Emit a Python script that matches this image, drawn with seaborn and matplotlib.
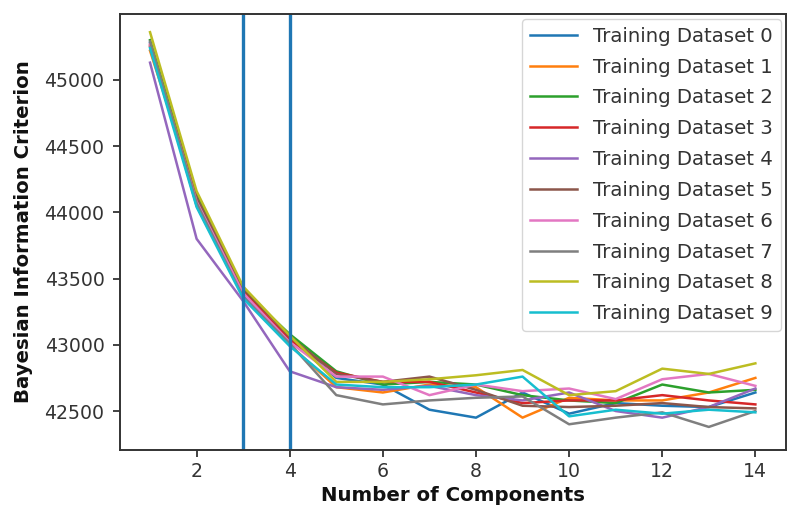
import numpy as np
import pandas as pd
import matplotlib
matplotlib.use("Agg")
import matplotlib.pyplot as plt
import seaborn as sns

components = list(range(1, 15))
series_names = [f"Training Dataset {i}" for i in range(10)]

ds0 = [45280, 44050, 43370, 43050, 42750, 42700, 42510, 42450, 42640, 42480, 42560, 42540, 42530, 42640]
ds1 = [45220, 44120, 43420, 43000, 42680, 42640, 42700, 42680, 42450, 42600, 42580, 42580, 42640, 42750]
ds2 = [45300, 44130, 43410, 43080, 42800, 42700, 42720, 42700, 42620, 42580, 42560, 42700, 42640, 42660]
ds3 = [45260, 44100, 43400, 43040, 42790, 42720, 42720, 42640, 42560, 42580, 42580, 42620, 42580, 42550]
ds4 = [45130, 43800, 43330, 42800, 42680, 42660, 42690, 42620, 42580, 42640, 42500, 42450, 42530, 42670]
ds5 = [45250, 44110, 43430, 43060, 42780, 42720, 42760, 42660, 42540, 42530, 42540, 42560, 42530, 42520]
ds6 = [45270, 44080, 43390, 43020, 42760, 42760, 42620, 42700, 42650, 42670, 42590, 42740, 42780, 42690]
ds7 = [45290, 44070, 43360, 43010, 42620, 42550, 42580, 42600, 42610, 42400, 42450, 42490, 42380, 42500]
ds8 = [45360, 44160, 43440, 43070, 42720, 42720, 42740, 42770, 42810, 42620, 42650, 42820, 42780, 42860]
ds9 = [45240, 44040, 43350, 42990, 42700, 42680, 42680, 42700, 42760, 42460, 42510, 42480, 42510, 42490]

all_series = [ds0, ds1, ds2, ds3, ds4, ds5, ds6, ds7, ds8, ds9]
chosen_components = [3, 4]

rows = []
for name, vals in zip(series_names, all_series):
    for n, v in zip(components, vals):
        rows.append({"n": n, "bic": v, "dataset": name})
df = pd.DataFrame(rows)

plt.rcParams["font.family"] = ["DejaVu Sans"]
plt.rcParams["font.size"] = 13
plt.rcParams["axes.linewidth"] = 1.4
plt.rcParams["axes.edgecolor"] = "#333333"
plt.rcParams["xtick.major.width"] = 1.3
plt.rcParams["ytick.major.width"] = 1.3
plt.rcParams["xtick.major.size"] = 5
plt.rcParams["ytick.major.size"] = 5

fig, ax = plt.subplots(figsize=(7.88, 5.15), dpi=100)
fig.subplots_adjust(left=0.152, right=0.997, top=0.973, bottom=0.126)

sns.lineplot(data=df, x="n", y="bic", hue="dataset", hue_order=series_names,
             palette="tab10", linewidth=1.8, ax=ax)

for c in chosen_components:
    ax.axvline(c, color="#1f77b4", linewidth=2.4)

ax.set_xticks([2, 4, 6, 8, 10, 12, 14])
ax.set_yticks([42500, 43000, 43500, 44000, 44500, 45000])
ax.set_ylim(42205, 45498)
ax.tick_params(labelsize=13.6, colors="#333333", labelcolor="#333333")
ax.tick_params(axis="y", pad=6)
ax.set_xlabel("Number of Components", fontweight="bold", fontsize=14.2, color="#111111")
ax.set_ylabel("Bayesian Information Criterion", fontweight="bold", fontsize=14.2,
              color="#111111", labelpad=8)

handles, labels = ax.get_legend_handles_labels()
leg = ax.legend(handles, labels, loc="upper right", fontsize=14.2, title=None,
                handlelength=2.4, labelspacing=0.6, borderaxespad=0.25)
for t in leg.get_texts():
    t.set_color("#333333")

fig.savefig("out.png", dpi=100)
